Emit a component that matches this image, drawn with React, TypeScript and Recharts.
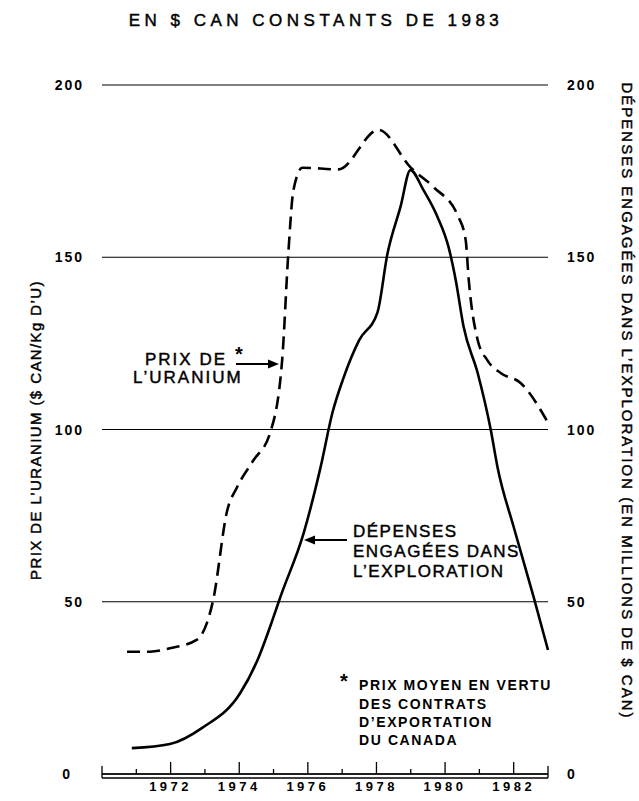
import { LineChart, Line, XAxis, YAxis, CartesianGrid } from 'recharts';

const priceYears = [1970.73, 1971.4, 1971.98, 1972.77, 1973.24, 1973.65, 1973.94, 1974.41, 1974.9, 1975.25, 1975.43, 1975.58, 1975.84, 1976.89, 1978.06, 1979.0, 1979.66, 1980.39, 1980.6, 1980.69, 1980.95, 1981.24, 1981.62, 1982.2, 1983.0];
const priceValues = [35.5, 35.5, 36.5, 39, 50.5, 76.5, 83.3, 91, 99, 120, 151, 169.5, 176, 175.5, 187, 176, 170.4, 161.7, 155, 143.4, 126, 120, 116.4, 113.5, 102];

const spendYears = [1970.87, 1971.98, 1972.92, 1974.03, 1974.53, 1975.0, 1975.2, 1975.88, 1976.37, 1976.72, 1977.04, 1977.5, 1978.03, 1978.32, 1978.7, 1978.99, 1979.37, 1979.78, 1980.1, 1980.31, 1980.54, 1980.95, 1981.33, 1981.53, 1982.0, 1982.58, 1983.0];
const spendValues = [7.5, 8.7, 13.4, 23.5, 33, 45.6, 51.4, 70, 89, 105, 115, 126, 134, 151, 164.6, 175.3, 169.5, 161.7, 153, 143.4, 129.8, 116.4, 100, 89, 71.7, 51.4, 36];

const yearTicks = [1970, 1971, 1972, 1973, 1974, 1975, 1976, 1977, 1978, 1979, 1980, 1981, 1982, 1983];
const valueTicks = [0, 50, 100, 150, 200];

const priceData = priceYears.map((year, i) => ({ year, price: priceValues[i] }));
const spendData = spendYears.map((year, i) => ({ year, spend: spendValues[i] }));

const FONT = '"Liberation Sans", Arial, Helvetica, sans-serif';

function YearTick(props: any) {
  const { x, y, payload } = props;
  const v = payload.value;
  const edge = v === 1970 || v === 1983;
  const even = v % 2 === 0 && !edge;
  const h = edge ? 8 : even ? 12 : 5;
  return (
    <g>
      <line x1={x} x2={x} y1={y + (edge ? 4 : 0)} y2={y - h} stroke="#000" strokeWidth={1.3} />
      {even && (
        <text x={x} y={y + 17} textAnchor="middle" fontFamily={FONT} fontWeight="bold" fontSize={13} letterSpacing={3.5} fill="#000">
          {v}
        </text>
      )}
    </g>
  );
}

function ValueTick(props: any) {
  const { x, y, payload, side } = props;
  const v = payload.value;
  const left = side === 'left';
  const dx = left && v === 0 ? -12 : 0;
  return (
    <text x={x + dx} y={y} dy={5} textAnchor={left ? 'end' : 'start'} fontFamily={FONT} fontWeight="bold" fontSize={14} letterSpacing={2} fill="#000">
      {v}
    </text>
  );
}

export default function App() {
  const txt = { fontFamily: FONT, fill: '#000' };
  const med = { stroke: '#000', strokeWidth: 0.45 };
  return (
    <div style={{ position: 'absolute', left: 0, top: 0, width: 639, height: 801, background: '#fff' }}>
      <LineChart width={639} height={801} margin={{ top: 85, right: 0, bottom: 0, left: 0 }}>
        <CartesianGrid yAxisId="left" vertical={false} stroke="#000" strokeWidth={1} horizontalValues={valueTicks} />
        <XAxis
          dataKey="year"
          type="number"
          domain={[1970, 1983]}
          ticks={yearTicks}
          interval={0}
          height={27}
          tickLine={false}
          tickSize={0}
          tickMargin={0}
          axisLine={{ stroke: '#000', strokeWidth: 1.3 }}
          tick={<YearTick />}
          allowDuplicatedCategory={false}
        />
        <YAxis yAxisId="left" orientation="left" width={102} domain={[0, 200]} ticks={valueTicks} axisLine={false} tickLine={false} tickSize={0} tickMargin={18} tick={<ValueTick side="left" />} />
        <YAxis yAxisId="right" orientation="right" width={91} domain={[0, 200]} ticks={valueTicks} axisLine={false} tickLine={false} tickSize={0} tickMargin={19} tick={<ValueTick side="right" />} />
        <Line
          yAxisId="left"
          data={priceData}
          dataKey="price"
          type="monotone"
          stroke="#000"
          strokeWidth={2.6}
          strokeDasharray="13 7"
          dot={false}
          isAnimationActive={false}
        />
        <Line
          yAxisId="right"
          data={spendData}
          dataKey="spend"
          type="monotone"
          stroke="#000"
          strokeWidth={2.6}
          dot={false}
          isAnimationActive={false}
        />
      </LineChart>
      <svg width={639} height={801} style={{ position: 'absolute', left: 0, top: 0, pointerEvents: 'none' }}>
        <text x={316} y={26} textAnchor="middle" fontSize={17} letterSpacing={4.5} {...txt} {...med}>
          EN $ CAN CONSTANTS DE 1983
        </text>
        <text transform="translate(35,430) rotate(-90)" textAnchor="middle" dominantBaseline="central" fontSize={15} letterSpacing={1.4} {...txt} {...med}>
          PRIX DE L’URANIUM ($ CAN/Kg D’U)
        </text>
        <text transform="translate(627,401) rotate(90)" textAnchor="middle" dominantBaseline="central" fontSize={15} letterSpacing={2} {...txt} {...med}>
          DÉPENSES ENGAGÉES DANS L’EXPLORATION (EN MILLIONS DE $ CAN)
        </text>
        <line x1={102} x2={548} y1={778} y2={778} stroke="#000" strokeWidth={1.3} />

        <text x={145} y={365} fontSize={17} letterSpacing={2} {...txt} {...med}>PRIX DE</text>
        <text x={133} y={383} fontSize={17} letterSpacing={2} {...txt} {...med}>L’URANIUM</text>
        <text x={235} y={361} fontSize={20} fontWeight="bold" {...txt}>*</text>
        <line x1={236} x2={270} y1={364} y2={364} stroke="#000" strokeWidth={2} />
        <polygon points="279,364 268,359.5 268,368.5" fill="#000" />

        <text x={353} y={537} fontSize={17} letterSpacing={1.5} {...txt} {...med}>DÉPENSES</text>
        <text x={353} y={557} fontSize={17} letterSpacing={1.5} {...txt} {...med}>ENGAGÉES DANS</text>
        <text x={353} y={577} fontSize={17} letterSpacing={1.5} {...txt} {...med}>L’EXPLORATION</text>
        <line x1={347} x2={313} y1={540} y2={540} stroke="#000" strokeWidth={2} />
        <polygon points="304,540 315,535.5 315,544.5" fill="#000" />

        <text x={340} y={688} fontSize={20} fontWeight="bold" {...txt}>*</text>
        <text x={359} y={690} fontSize={14} fontWeight="bold" letterSpacing={1.6} {...txt}>PRIX MOYEN EN VERTU</text>
        <text x={359} y={709} fontSize={14} fontWeight="bold" letterSpacing={1.6} {...txt}>DES CONTRATS</text>
        <text x={359} y={727} fontSize={14} fontWeight="bold" letterSpacing={1.6} {...txt}>D’EXPORTATION</text>
        <text x={359} y={745} fontSize={14} fontWeight="bold" letterSpacing={1.6} {...txt}>DU CANADA</text>
      </svg>
    </div>
  );
}
